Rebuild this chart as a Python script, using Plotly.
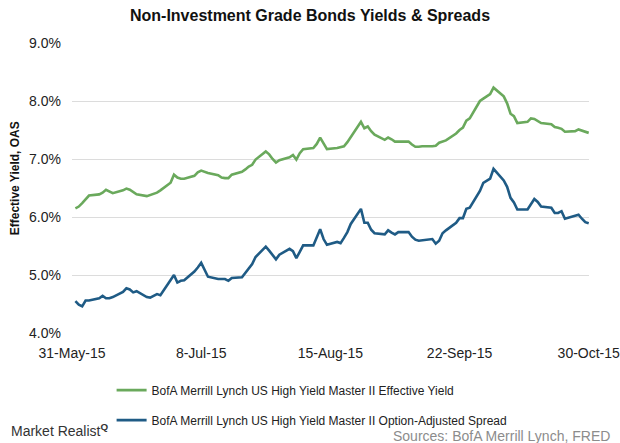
import pandas as pd
import plotly.graph_objects as go

# business days, 1-Jun-15 .. 30-Oct-15
dates = pd.bdate_range("2015-06-01", "2015-10-30")

effective_yield = [
    6.15, 6.18, 6.24, 6.30, 6.37,
    6.39, 6.42, 6.47, 6.44, 6.41,
    6.46, 6.49, 6.47, 6.43, 6.39,
    6.36, 6.38, 6.40, 6.42, 6.46,
    6.59, 6.73, 6.68, 6.66, 6.66,
    6.71, 6.77, 6.80, 6.78, 6.76,
    6.72, 6.68, 6.67, 6.67, 6.73,
    6.78, 6.82, 6.87, 6.90, 6.99,
    7.13, 7.08, 7.00, 6.94, 6.98,
    7.03, 7.07, 6.99, 7.10, 7.17,
    7.19, 7.26, 7.37, 7.28, 7.17,
    7.19, 7.21, 7.22, 7.29, 7.38,
    7.64, 7.53, 7.56, 7.48, 7.42,
    7.33, 7.37, 7.34, 7.30, 7.30,
    7.30, 7.25, 7.21, 7.21, 7.22,
    7.22, 7.23, 7.28, 7.30, 7.32,
    7.44, 7.50, 7.54, 7.66, 7.70,
    8.00, 8.04, 8.08, 8.12, 8.23,
    8.08, 7.96, 7.78, 7.74, 7.62,
    7.64, 7.70, 7.69, 7.66, 7.62,
    7.60, 7.55, 7.54, 7.52, 7.47,
    7.48, 7.51, 7.49, 7.47, 7.45,
]

oas = [
    4.55, 4.49, 4.46, 4.56, 4.56,
    4.60, 4.64, 4.60, 4.60, 4.62,
    4.71, 4.77, 4.75, 4.70, 4.72,
    4.62, 4.61, 4.64, 4.67, 4.65,
    4.91, 5.00, 4.87, 4.90, 4.91,
    5.06, 5.13, 5.21, 5.09, 4.97,
    4.93, 4.93, 4.93, 4.90, 4.95,
    4.96, 5.04, 5.12, 5.19, 5.31,
    5.49, 5.42, 5.34, 5.27, 5.35,
    5.45, 5.41, 5.29, 5.40, 5.51,
    5.51, 5.66, 5.79, 5.62, 5.52,
    5.57, 5.55, 5.64, 5.74, 5.88,
    6.14, 5.90, 5.90, 5.78, 5.72,
    5.70, 5.77, 5.73, 5.70, 5.74,
    5.74, 5.66, 5.61, 5.59, 5.60,
    5.62, 5.54, 5.59, 5.72, 5.77,
    5.90, 5.98, 5.98, 6.14, 6.16,
    6.45, 6.59, 6.62, 6.66, 6.83,
    6.63, 6.52, 6.33, 6.25, 6.13,
    6.13, 6.23, 6.31, 6.26, 6.18,
    6.16, 6.07, 6.07, 6.10, 5.97,
    6.03, 6.04, 5.97, 5.91, 5.89,
]

tick_dates = ["2015-05-31", "2015-07-08", "2015-08-15", "2015-09-22", "2015-10-30"]

FONT = "Liberation Sans, Arial, sans-serif"

fig = go.Figure()
fig.add_trace(go.Scatter(
    x=dates, y=effective_yield, mode="lines", legendgroup="a",
    name="BofA Merrill Lynch US High Yield Master II Effective Yield",
    line=dict(color="#6aa95c", width=2.6),
))
fig.add_trace(go.Scatter(
    x=dates, y=oas, mode="lines", legendgroup="b",
    name="BofA Merrill Lynch US High Yield Master II Option-Adjusted Spread",
    line=dict(color="#1f5b85", width=2.6),
))

fig.update_layout(
    width=620, height=443,
    margin=dict(l=72, r=31, t=43, b=110, autoexpand=False),
    paper_bgcolor="white", plot_bgcolor="white",
    font=dict(family=FONT, color="#222", size=13),
    title=dict(
        text="<b>Non-Investment Grade Bonds Yields & Spreads</b>",
        x=0.5, xanchor="center", y=0.965, yanchor="middle",
        font=dict(size=16, color="#111"),
    ),
    showlegend=True,
    legend=dict(
        xref="container", yref="container",
        x=0.18, xanchor="left", y=0.152, yanchor="top",
        font=dict(size=12, color="#222"), tracegroupgap=11,
        bgcolor="rgba(0,0,0,0)",
    ),
)

fig.update_xaxes(
    type="date", range=["2015-05-31", "2015-10-30 02:00"],
    tickvals=tick_dates, tickformat="%-d-%b-%y",
    tickfont=dict(size=14, color="#222"),
    ticklabeloverflow="allow", ticklabelstandoff=10,
    showgrid=False, zeroline=False, showline=False, ticks="",
    automargin=False,
)
fig.update_yaxes(
    range=[4, 9], dtick=1, tickformat=".1f", ticksuffix="%",
    tickfont=dict(size=14, color="#222"), ticklabelstandoff=10,
    gridcolor="#dcdcdc", gridwidth=1, zeroline=False, showline=False,
    ticks="", automargin=False,
)

fig.add_annotation(
    text="<b>Effective Yield, OAS</b>", textangle=-90,
    xref="paper", yref="paper", x=-0.110, y=0.534,
    xanchor="center", yanchor="middle",
    showarrow=False, font=dict(size=12, color="#111"),
)
fig.add_annotation(
    text="Market Realist<sup><b>Q</b></sup>",
    xref="paper", yref="paper", x=-0.122, y=-0.335,
    xanchor="left", yanchor="middle",
    showarrow=False, font=dict(size=14, color="#333"),
)
fig.add_annotation(
    text="Sources: BofA Merrill Lynch, FRED",
    xref="paper", yref="paper", x=1.0445, y=-0.355,
    xanchor="right", yanchor="middle",
    showarrow=False, font=dict(size=14, color="#8c8c8c"),
)

# page body has a default 8px margin, drop it so the chart fills the window
fig.write_html(
    "out.html",
    config={"displayModeBar": False},
    post_script="document.body.style.margin='0';",
)
